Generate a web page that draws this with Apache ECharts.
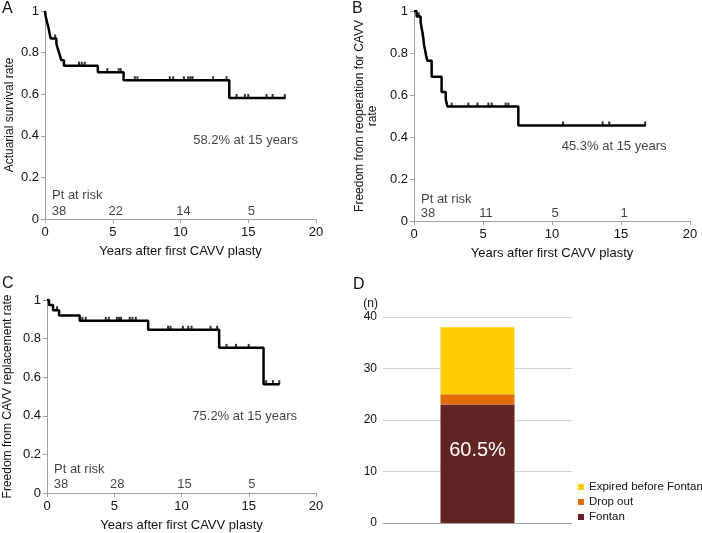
<!DOCTYPE html>
<html><head><meta charset="utf-8">
<script src="https://cdn.jsdelivr.net/npm/echarts@6/dist/echarts.min.js"></script>
<style>html,body{margin:0;padding:0;background:#fff}#c{width:702px;height:533px}</style>
</head><body><div id="c"></div>
<script>
// ---- Panel A: actuarial survival ----
const aTimes = [0, 0.05, 0.15, 0.25, 0.33, 0.42, 0.84, 0.96, 1.09, 1.21, 1.4, 3.9, 5.8, 13.6, 17.76];
const aSurv  = [1, 0.974, 0.947, 0.921, 0.895, 0.868, 0.842, 0.816, 0.789, 0.763, 0.737, 0.706, 0.667, 0.582, 0.582];
const aCensor = [0.75, 2.51, 2.71, 2.93, 4.6, 5.44, 5.59, 6.63, 6.82, 9.21, 9.46, 10.25, 10.57, 10.74, 10.89, 12.41, 13.4, 14.14, 14.75, 15.0, 16.35, 16.8, 17.7];
const aRisk = [38, 22, 14, 5];
const aAt15 = 58.2;
// ---- Panel B: freedom from reoperation ----
const bTimes = [0, 0.19, 0.48, 0.55, 0.62, 0.68, 0.72, 0.8, 0.87, 0.97, 1.28, 2.0, 2.3, 2.42, 7.56, 16.8];
const bSurv  = [1, 0.974, 0.947, 0.92, 0.895, 0.868, 0.842, 0.816, 0.789, 0.763, 0.687, 0.614, 0.58, 0.545, 0.455, 0.455];
const bCensor = [0.35, 2.73, 3.94, 4.6, 5.39, 5.63, 6.64, 6.84, 10.8, 13.67, 14.15, 16.75];
const bRisk = [38, 11, 5, 1];
const bAt15 = 45.3;
// ---- Panel C: freedom from CAVV replacement ----
const cTimes = [0, 0.15, 0.45, 0.9, 2.43, 7.52, 12.8, 16.1, 17.3];
const cSurv  = [1, 0.974, 0.947, 0.92, 0.892, 0.846, 0.752, 0.564, 0.564];
const cCensor = [0.75, 2.63, 2.88, 4.37, 4.6, 5.2, 5.36, 5.5, 6.15, 6.35, 6.6, 9.0, 9.18, 10.1, 10.5, 10.75, 12.16, 12.65, 13.35, 14.05, 15.0, 16.3, 16.8, 17.27];
const cRisk = [38, 28, 15, 5];
const cAt15 = 75.2;
const riskYears = [0, 5, 10, 15];
// ---- Panel D: outcome counts ----
const dCategory = [''];
const dSeriesNames = ['Fontan', 'Drop out', 'Expired before Fontan'];
const dFontan = [23];
const dDropOut = [2];
const dExpired = [13];

const FONT = '"Liberation Sans", Arial, Helvetica, sans-serif';
const TXT = '#111';
const AX = '#a0a0a0';

function kmPairs(t, s) { return t.map((x, i) => [x, s[i]]); }
function censorPairs(t, s, c) {
  return c.map(x => { let v = s[0]; for (let i = 0; i < t.length; i++) { if (t[i] <= x) v = s[i]; } return [x, v]; });
}

const grids = [
  { left: 45, top: 11, width: 271, height: 208 },
  { left: 414, top: 11, width: 276, height: 210 },
  { left: 47, top: 300, width: 269, height: 195 },
  { left: 383, top: 317, width: 189, height: 206 }
];

function kmX(gi) {
  return {
    type: 'value', gridIndex: gi, min: 0, max: 20, interval: 5,
    axisLine: { show: true, lineStyle: { color: AX, width: 1 } },
    axisTick: { show: true, length: 4, lineStyle: { color: AX } },
    splitLine: { show: false },
    axisLabel: { fontSize: 13, color: TXT, margin: 7, fontFamily: FONT },
    name: 'Years after first CAVV plasty', nameLocation: 'middle', nameGap: 26,
    nameTextStyle: { fontSize: 13, color: TXT, fontFamily: FONT }
  };
}
function kmY(gi, name, gap, lh) {
  return {
    type: 'value', gridIndex: gi, min: 0, max: 1, interval: 0.2,
    axisLine: { show: true, lineStyle: { color: AX, width: 1 } },
    axisTick: { show: true, length: 4, lineStyle: { color: AX } },
    splitLine: { show: false },
    axisLabel: { fontSize: 13, color: TXT, margin: 6, fontFamily: FONT },
    name: name, nameLocation: 'middle', nameGap: gap, nameRotate: 90,
    nameTextStyle: { fontSize: 12, color: TXT, fontFamily: FONT, lineHeight: lh || 13 }
  };
}

function kmSeries(gi, t, s, c, risk, at15, annot, riskDy, ptDy) {
  const out = [];
  out.push({ type: 'line', xAxisIndex: gi, yAxisIndex: gi, step: 'end', showSymbol: false, silent: true,
    data: kmPairs(t, s), lineStyle: { color: '#000', width: 2.5 }, z: 3 });
  out.push({ type: 'scatter', xAxisIndex: gi, yAxisIndex: gi, symbol: 'rect', symbolSize: [2, 4], symbolOffset: [0, -2],
    itemStyle: { color: '#000' }, silent: true, data: censorPairs(t, s, c), z: 4 });
  const riskData = riskYears.map((y, i) => ({ value: [y, 0],
    label: { formatter: String(risk[i]), offset: [i === 0 ? 14 : 3, riskDy] } }));
  riskData.push({ value: [0, 0], label: { formatter: 'Pt at risk', align: 'left', offset: [7, ptDy] } });
  out.push({ type: 'scatter', xAxisIndex: gi, yAxisIndex: gi, symbolSize: 0, silent: true, data: riskData,
    label: { show: true, position: 'inside', fontSize: 13, color: TXT, fontFamily: FONT } });
  out.push({ type: 'scatter', xAxisIndex: gi, yAxisIndex: gi, symbolSize: 0, silent: true,
    data: [{ value: annot, label: { formatter: at15.toFixed(1) + '% at 15 years' } }],
    label: { show: true, position: 'inside', fontSize: 13, color: TXT, fontFamily: FONT } });
  return out;
}

const total = dFontan[0] + dDropOut[0] + dExpired[0];
const option = {
  animation: false,
  backgroundColor: '#fff',
  textStyle: { fontFamily: FONT },
  grid: grids,
  xAxis: [kmX(0), kmX(1), kmX(2), {
    type: 'category', gridIndex: 3, data: dCategory,
    axisLine: { show: true, lineStyle: { color: AX } }, axisTick: { show: false }, axisLabel: { show: false }
  }],
  yAxis: [
    kmY(0, 'Actuarial survival rate', 29),
    kmY(1, 'Freedom from reoperation for CAVV\nrate', 35, 13),
    kmY(2, 'Freedom from CAVV replacement rate', 33),
    {
      type: 'value', gridIndex: 3, min: 0, max: 40, interval: 10,
      axisLine: { show: false }, axisTick: { show: false },
      splitLine: { show: true, lineStyle: { color: '#d4d4d4' } },
      axisLabel: { fontSize: 12, color: TXT, margin: 6, fontFamily: FONT },
      name: '(n)', nameLocation: 'end', nameGap: 7,
      nameTextStyle: { fontSize: 12, color: TXT, align: 'right', padding: [0, 5, 0, 0], fontFamily: FONT }
    }
  ],
  legend: {
    data: ['Expired before Fontan', 'Drop out', 'Fontan'],
    orient: 'vertical', left: 578, top: 481, padding: 0, itemWidth: 6, itemHeight: 6, itemGap: 3,
    icon: 'rect', textStyle: { fontSize: 11.5, color: TXT, fontFamily: FONT }
  },
  series: [].concat(
    kmSeries(0, aTimes, aSurv, aCensor, aRisk, aAt15, [14.8, 0.377], -8, -24),
    kmSeries(1, bTimes, bSurv, bCensor, bRisk, bAt15, [14.5, 0.354], -8, -22),
    kmSeries(2, cTimes, cSurv, cCensor, cRisk, cAt15, [14.7, 0.395], -9, -24),
    [
      { type: 'bar', name: dSeriesNames[0], stack: 'n', xAxisIndex: 3, yAxisIndex: 3, barWidth: 74, data: dFontan,
        itemStyle: { color: '#632523' },
        label: { show: true, position: 'inside', offset: [0, -13], color: '#fff', fontSize: 20, fontFamily: FONT,
          formatter: p => (p.value / total * 100).toFixed(1) + '%' } },
      { type: 'bar', name: dSeriesNames[1], stack: 'n', xAxisIndex: 3, yAxisIndex: 3, barWidth: 74, data: dDropOut,
        itemStyle: { color: '#E46C0A' } },
      { type: 'bar', name: dSeriesNames[2], stack: 'n', xAxisIndex: 3, yAxisIndex: 3, barWidth: 74, data: dExpired,
        itemStyle: { color: '#FFCC00' } }
    ]
  ),
  graphic: [
    { type: 'text', left: 2, top: 1, style: { text: 'A', fontSize: 16, fill: TXT, fontFamily: FONT } },
    { type: 'text', left: 352, top: 1, style: { text: 'B', fontSize: 16, fill: TXT, fontFamily: FONT } },
    { type: 'text', left: 2, top: 276, style: { text: 'C', fontSize: 16, fill: TXT, fontFamily: FONT } },
    { type: 'text', left: 353, top: 277, style: { text: 'D', fontSize: 16, fill: TXT, fontFamily: FONT } }
  ]
};
const chart = echarts.init(document.getElementById('c'), null, { renderer: 'canvas' });
chart.setOption(option);
</script>
</body></html>
